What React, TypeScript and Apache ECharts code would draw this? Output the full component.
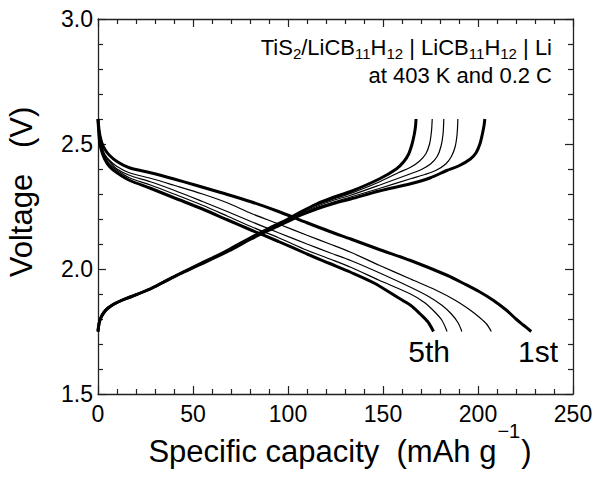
import React, { useEffect, useRef } from "react";
import * as echarts from "echarts";

const FONT = "'Liberation Sans', Arial, Helvetica, sans-serif";

const xRange = [0, 250];
const xStep = 50;
const yRange = [1.5, 3.0];
const yStep = 0.5;

const cycleNames = ["1st", "2nd", "3rd", "4th", "5th"];

// Charge curves (capacity mAh/g, voltage V)
const charge1 = [[0,1.75],[0.5,1.78],[1.5,1.805],[3,1.825],[5,1.842],[8,1.858],[12,1.873],[17,1.888],[27.6,1.92],[34,1.945],[43,1.98],[51.5,2.01],[60,2.04],[69,2.073],[80.5,2.12],[90,2.155],[100,2.19],[106.6,2.215],[115,2.24],[124,2.262],[133,2.28],[148,2.312],[164.5,2.341],[175,2.365],[183.5,2.394],[190,2.413],[196,2.44],[199,2.465],[201,2.5],[202.3,2.54],[203.2,2.575],[203.6,2.6]];
const charge2 = [[0,1.75],[0.5,1.78],[1.5,1.805],[3,1.825],[5,1.842],[8,1.858],[12,1.873],[17,1.888],[27.6,1.92],[34,1.945],[43,1.98],[51.5,2.01],[60,2.041],[69,2.074],[80.5,2.121],[90,2.157],[100,2.192],[106.6,2.218],[115,2.245],[124,2.268],[133,2.288],[148,2.322],[164.5,2.361],[172,2.378],[178,2.395],[183,2.42],[186,2.45],[188,2.49],[189,2.54],[189.4,2.6]];
const charge3 = [[0,1.75],[0.5,1.78],[1.5,1.805],[3,1.825],[5,1.842],[8,1.858],[12,1.873],[17,1.888],[27.6,1.92],[34,1.945],[43,1.98],[51.5,2.011],[60,2.042],[69,2.075],[80.5,2.122],[90,2.159],[100,2.195],[106.6,2.222],[115,2.25],[124,2.275],[133,2.295],[148,2.335],[164.5,2.381],[170,2.397],[175,2.42],[178.5,2.45],[180.5,2.49],[181.6,2.54],[182,2.6]];
const charge4 = [[0,1.75],[0.5,1.78],[1.5,1.805],[3,1.825],[5,1.842],[8,1.858],[12,1.873],[17,1.888],[27.6,1.921],[34,1.946],[43,1.981],[51.5,2.012],[60,2.043],[69,2.076],[80.5,2.124],[90,2.161],[100,2.198],[106.6,2.225],[115,2.255],[124,2.28],[133,2.302],[148,2.348],[158,2.385],[164.5,2.407],[169,2.43],[172.5,2.46],[174.5,2.5],[175.5,2.55],[175.9,2.6]];
const charge5 = [[0,1.75],[0.5,1.78],[1.5,1.805],[3,1.825],[5,1.842],[8,1.858],[12,1.873],[17,1.888],[27.6,1.921],[34,1.946],[43,1.981],[51.5,2.013],[60,2.044],[69,2.078],[80.5,2.126],[90,2.163],[100,2.2],[106.6,2.228],[115,2.26],[124,2.287],[133,2.31],[148,2.36],[157,2.4],[161,2.43],[163.5,2.46],[165.3,2.5],[166.5,2.54],[167.1,2.57],[167.4,2.6]];

// Discharge curves
const discharge1 = [[0,2.6],[0.5,2.56],[1,2.535],[2,2.505],[3.5,2.48],[6,2.455],[10,2.43],[16.5,2.405],[27.6,2.385],[40,2.36],[51.5,2.335],[65,2.305],[80.5,2.269],[95,2.23],[110,2.185],[122,2.15],[133,2.12],[148,2.078],[164.5,2.034],[183.7,1.975],[193,1.94],[201,1.908],[208,1.875],[215,1.835],[220,1.8],[224,1.775],[228,1.75]];
const discharge2 = [[0,2.6],[0.5,2.55],[1,2.52],[2,2.49],[3.5,2.46],[6,2.435],[10,2.41],[16.5,2.385],[27.6,2.363],[40,2.335],[55,2.3],[68,2.265],[80.5,2.223],[95,2.18],[110,2.135],[122,2.1],[133,2.067],[148,2.015],[164.5,1.96],[178,1.915],[188,1.875],[196,1.835],[201,1.805],[204.5,1.78],[207,1.75]];
const discharge3 = [[0,2.6],[0.5,2.545],[1,2.51],[2,2.48],[3.5,2.455],[6,2.43],[10,2.4],[16.5,2.375],[27.6,2.349],[40,2.315],[55,2.27],[68,2.23],[80.5,2.19],[95,2.145],[110,2.1],[122,2.065],[133,2.034],[148,1.985],[164.5,1.927],[174,1.89],[181,1.855],[186,1.82],[189.5,1.785],[191.5,1.75]];
const discharge4 = [[0,2.6],[0.5,2.54],[1,2.505],[2,2.475],[3.5,2.45],[6,2.42],[10,2.395],[16.5,2.365],[27.6,2.336],[40,2.3],[55,2.255],[68,2.212],[80.5,2.17],[95,2.125],[110,2.075],[122,2.04],[133,2.007],[148,1.955],[164.5,1.9],[172,1.865],[177,1.83],[181,1.795],[183.7,1.75]];
const discharge5 = [[0,2.6],[0.5,2.535],[1,2.5],[2,2.47],[3.5,2.44],[6,2.41],[10,2.385],[16.5,2.355],[27.6,2.323],[40,2.285],[55,2.24],[68,2.197],[80.5,2.156],[95,2.11],[110,2.06],[122,2.022],[133,1.987],[145,1.945],[157.2,1.889],[164.5,1.855],[169.6,1.82],[173.5,1.79],[176.6,1.75]];

const chargeCurves = [charge1, charge2, charge3, charge4, charge5];
const dischargeCurves = [discharge1, discharge2, discharge3, discharge4, discharge5];

export default function App() {
  const ref = useRef<HTMLDivElement>(null);

  useEffect(() => {
    document.body.style.margin = "0";
    const chart = echarts.init(ref.current!, null, { renderer: "svg" });

    const axisLineStyle = { color: "#222", width: 1.3 };
    const common = {
      type: "value" as const,
      axisLine: { show: true, onZero: false, lineStyle: axisLineStyle },
      axisTick: { show: true, inside: true, length: 8, lineStyle: { color: "#222", width: 1.2 } },
      minorTick: { show: true, splitNumber: 5, length: 5, lineStyle: { color: "#222", width: 1.2 } },
      splitLine: { show: false },
      minorSplitLine: { show: false },
    };

    const series: any[] = [];
    const order = [1, 2, 3, 0, 4];
    order.forEach((i) => {
      const thick = i === 0 || i === 4;
      series.push({
        name: cycleNames[i] + " charge",
        type: "line",
        data: chargeCurves[i],
        showSymbol: false,
        symbol: "none",
        smooth: 0.3,
        lineStyle: { color: "#000", width: thick ? 3 : 1.2 },
        z: thick ? 3 : 2,
      });
      series.push({
        name: cycleNames[i] + " discharge",
        type: "line",
        data: dischargeCurves[i],
        showSymbol: false,
        symbol: "none",
        smooth: 0.3,
        lineStyle: { color: "#000", width: thick ? 3 : 1.2 },
        z: thick ? 3 : 2,
      });
    });

    const option: any = {
      animation: false,
      backgroundColor: "#fff",
      textStyle: { fontFamily: FONT },
      grid: { left: 98, right: 29, top: 19, bottom: 86, containLabel: false },
      xAxis: [
        {
          ...common,
          position: "bottom",
          min: xRange[0],
          max: xRange[1],
          interval: xStep,
          axisLabel: { show: true, fontSize: 23, color: "#000", fontFamily: FONT, margin: 8 },
        },
        {
          ...common,
          position: "top",
          min: xRange[0],
          max: xRange[1],
          interval: xStep,
          axisLabel: { show: false },
        },
      ],
      yAxis: [
        {
          ...common,
          position: "left",
          min: yRange[0],
          max: yRange[1],
          interval: yStep,
          axisLabel: {
            show: true,
            fontSize: 23,
            color: "#000",
            fontFamily: FONT,
            margin: 5,
            formatter: (v: number) => v.toFixed(1),
          },
        },
        {
          ...common,
          position: "right",
          min: yRange[0],
          max: yRange[1],
          interval: yStep,
          axisLabel: { show: false },
        },
      ],
      series,
      graphic: [
        {
          type: "text",
          x: 21,
          y: 192,
          rotation: Math.PI / 2,
          style: {
            text: "Voltage\u00a0\u00a0\u00a0(V)",
            font: `31px ${FONT}`,
            fill: "#000",
            align: "center",
            verticalAlign: "middle",
          },
        },
        {
          type: "text",
          x: 340,
          y: 421,
          style: {
            text: "{m|Specific capacity\u00a0\u00a0(mAh g}{s|\u22121}{m|)}",
            fill: "#000",
            align: "center",
            verticalAlign: "top",
            rich: {
              m: { fontSize: 31, fontFamily: FONT, lineHeight: 31, verticalAlign: "top", padding: [15, 0, 0, 0], fill: "#000" },
              s: { fontSize: 20, fontFamily: FONT, lineHeight: 20, verticalAlign: "top", padding: [0, 1, 0, 1], fill: "#000" },
            },
          },
        },
        {
          type: "text",
          x: 552,
          y: 36.4,
          style: {
            text: "{n|TiS}{b|2}{n|/LiCB}{b|11}{n|H}{b|12}{n|\u00a0|\u00a0LiCB}{b|11}{n|H}{b|12}{n|\u00a0|\u00a0Li}",
            fill: "#000",
            align: "right",
            verticalAlign: "top",
            rich: {
              n: { fontSize: 22, fontFamily: FONT, lineHeight: 22, verticalAlign: "top", fill: "#000" },
              b: { fontSize: 15, fontFamily: FONT, lineHeight: 15, verticalAlign: "top", padding: [10, 0, 0, 0], fill: "#000" },
            },
          },
        },
        {
          type: "text",
          x: 552,
          y: 83 - 7.6,
          style: {
            text: "at 403 K and 0.2 C",
            font: `22px ${FONT}`,
            fill: "#000",
            align: "right",
            verticalAlign: "middle",
          },
        },
        {
          type: "text",
          x: 450,
          y: 362 - 10.4,
          style: {
            text: "5th",
            font: `30px ${FONT}`,
            fill: "#000",
            align: "right",
            verticalAlign: "middle",
          },
        },
        {
          type: "text",
          x: 558,
          y: 362 - 10.4,
          style: {
            text: "1st",
            font: `30px ${FONT}`,
            fill: "#000",
            align: "right",
            verticalAlign: "middle",
          },
        },
      ],
    };

    chart.setOption(option);
    return () => chart.dispose();
  }, []);

  return (
    <div
      ref={ref}
      style={{ position: "fixed", left: 0, top: 0, width: 602, height: 480, background: "#fff" }}
    />
  );
}
